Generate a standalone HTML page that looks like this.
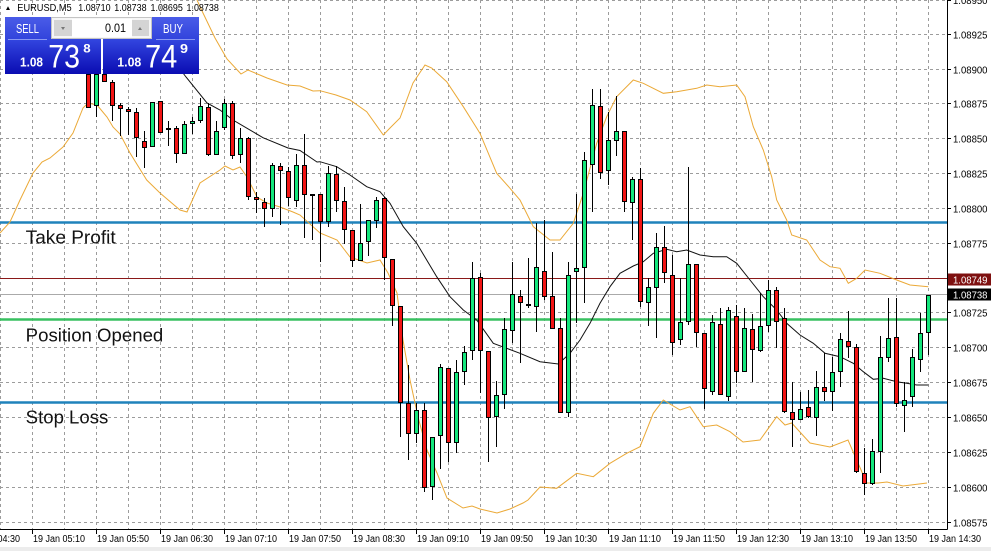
<!DOCTYPE html>
<html><head><meta charset="utf-8"><style>
html,body{margin:0;padding:0;background:#fff;width:991px;height:551px;overflow:hidden}
svg{display:block;font-family:"Liberation Sans",sans-serif}
</style></head><body>
<svg width="991" height="551" viewBox="0 0 991 551" xmlns="http://www.w3.org/2000/svg">
<defs>
<linearGradient id="pb" x1="0" y1="0" x2="0" y2="1"><stop offset="0" stop-color="#3346e0"/><stop offset="1" stop-color="#0a0cb2"/></linearGradient>
<linearGradient id="bt" x1="0" y1="0" x2="0" y2="1"><stop offset="0" stop-color="#4a5ce8"/><stop offset="1" stop-color="#3244dc"/></linearGradient>
</defs>
<rect width="991" height="551" fill="#fff"/>
<rect x="0" y="547" width="991" height="4" fill="#ececec"/>
<!-- grid -->
<g stroke="#9c9c9c" stroke-width="1" stroke-dasharray="3,3" fill="none">
<path d="M0.5 0V529M32.5 0V529M64.5 0V529M96.5 0V529M128.5 0V529M160.5 0V529M192.5 0V529M224.5 0V529M256.5 0V529M288.5 0V529M320.5 0V529M352.5 0V529M384.5 0V529M416.5 0V529M448.5 0V529M480.5 0V529M512.5 0V529M544.5 0V529M576.5 0V529M608.5 0V529M640.5 0V529M672.5 0V529M704.5 0V529M736.5 0V529M768.5 0V529M800.5 0V529M832.5 0V529M864.5 0V529M896.5 0V529M928.5 0V529"/>
<path d="M0 522.5H947M0 487.5H947M0 452.5H947M0 417.5H947M0 382.5H947M0 347.5H947M0 312.5H947M0 278.5H947M0 243.5H947M0 208.5H947M0 173.5H947M0 138.5H947M0 103.5H947M0 69.5H947M0 34.5H947M0 0.5H947"/>
</g>
<!-- horizontal level lines -->
<line x1="0" y1="278.5" x2="947" y2="278.5" stroke="#8a1818" stroke-width="1"/>
<line x1="0" y1="294.5" x2="947" y2="294.5" stroke="#aaaaaa" stroke-width="1"/>
<line x1="0" y1="222.5" x2="947" y2="222.5" stroke="#1f82bb" stroke-width="2.5"/>
<line x1="0" y1="319.5" x2="947" y2="319.5" stroke="#38c060" stroke-width="2.5"/>
<line x1="0" y1="402.5" x2="947" y2="402.5" stroke="#1f82bb" stroke-width="2.5"/>
<!-- bollinger -->
<g fill="none" stroke="#eba937" stroke-width="1">
<polyline points="197,0 203,13 215,38 227,59 241,74 248,70 267,78 287,85 300,86 313,91 320,90.7 336,95 350,100 366.7,111.7 383.3,135 390,128 400,118 413,83 425,65 431.7,68 446.7,81.7 463.3,106.7 480,133.3 496.7,173.3 510,188.3 520,200 533.3,226.7 550,240 560,240 573.3,223.3 583.3,193.3 596.7,143.3 606.7,116.7 616.7,96.7 633.3,80 643.3,83.3 663.3,93.3 676.7,91.7 696.7,88.3 706.7,85 720,86.7 736.7,85 745,96.7 753.3,126.7 763.3,150 771.7,176.7 776.7,200 786.7,220 791.7,235 806.7,240 820,260 830,266.7 840,268.3 848.3,283.3 856.7,278.3 865,270 880,273.3 896.7,280 910,285 928.3,286.7"/>
<polyline points="0,233 10,222 20,200 33,173 42,162 50,158 63,147 73,133 83,108 88,103 97,105 107,117 113,127 120,134 130,153 146.7,180 160,193 180,210 187,212 200,183 220,170 225,166 233,170 240,167 247,177 257,197 267,203 280,207 293,212 300,215 320,233 337,240 350,257 367,263 380,260 388,273 397,293 403,340 410,380 418,417 427,450 437,473 447,498 463,508 472,506 480,509 497,513 510,509 523,503 528,500 540,487 556.7,488.3 576.7,473.3 593.3,476.7 610,463.3 626.7,453.3 640,446.7 653.3,413.3 663.3,400 680,410 690,406.7 703.3,426.7 716.7,425 730,431.7 743,442 760,440 776.7,416.7 785,425 791.7,423 810,443 830,447 848,440 856.7,460 866.7,483 878,483 887,482 903,486 927,483"/>
</g>
<!-- MA -->
<polyline fill="none" stroke="#111" stroke-width="1" points="183,73 186,77 207,103 220,110 233,120 263,137.7 288,148 300,150.5 317,162 320,161.7 336.7,166.7 350,175 366.7,186.7 380,191.7 390,203.3 403.3,226.7 416.7,243.3 436.7,276.7 450,296.7 463.3,310 476.7,320 493.3,343.3 506.7,348.3 520,353.3 540,361.7 558.3,364 570,353.3 580,340 590,323.3 600,303.3 610,286.7 620,273.3 633.3,266 643.3,261.7 653.3,253.3 666.7,249.3 676.7,251.7 686.7,250 700,255 713.3,256.7 726.7,256.7 736.7,263.3 750,280 763.3,296.7 776.7,310 786.7,323.3 800,335 813.3,343.3 825,353.3 840,356.7 853.3,363.3 863.3,371.7 873.3,379.3 883.3,378.3 896.7,381.7 906.7,383.3 916.7,385 928.3,385"/>
<!-- wicks -->
<path stroke="#000" stroke-width="1" fill="none" d="M88.5 74V108M96.5 74V117M104.5 74V82M112.5 80V121M120.5 103V136M128.5 107V135M136.5 108V157M144.5 131V168M152.5 102V147M160.5 101V133M168.5 121V146M176.5 126V163M184.5 121V154M192.5 117V134M200.5 98V123M208.5 103V156M216.5 121V155M224.5 99V130M232.5 101V159M240.5 128V163M248.5 137V200M256.5 192V213M264.5 198V227M272.5 163V217M280.5 163V225M288.5 167V206M296.5 154V207M304.5 134V238M312.5 194V240M320.5 194V262M328.5 166V227M336.5 166V212M344.5 187V244M352.5 230V267M360.5 204V261M368.5 220V256M376.5 197V228M384.5 197V280M392.5 259V326M400.5 306V437M408.5 365V460M416.5 403V443M424.5 403V492M432.5 437V500M440.5 364V469M448.5 368V462M456.5 360V453M464.5 346V385M472.5 262V360M480.5 273V393M488.5 351V462M496.5 381V447M504.5 318V409M512.5 262V343M520.5 290V363M528.5 258V308M536.5 223V332M544.5 220V300M552.5 252V329M560.5 318V413M568.5 262V417M576.5 194V323M584.5 152V303M592.5 89V212M600.5 89V179M608.5 112V185M616.5 96V156M624.5 131V212M632.5 177V240M640.5 168V307M648.5 278V326M656.5 233V338M664.5 226V283M672.5 255V355M680.5 278V345M688.5 167V325M696.5 264V347M704.5 333V409M712.5 315V395M720.5 308V395M728.5 307V401M736.5 305V383M744.5 308V372M752.5 314V382M760.5 293V352M768.5 280V332M776.5 287V348M784.5 308V413M792.5 382V447M800.5 392V420M808.5 390V418M816.5 371V436M824.5 353V401M832.5 357V411M840.5 333V387M848.5 311V358M856.5 344V473M864.5 448V495M872.5 439V485M880.5 336V473M888.5 298V362M896.5 298V407M904.5 382V432M912.5 349V407M920.5 313V372M928.5 295V355"/>
<!-- bodies -->
<g stroke="#000" stroke-width="1">
<g fill="#f21414">
<rect x="86.5" y="74.5" width="4" height="33"/><rect x="102.5" y="74.5" width="4" height="7"/><rect x="110.5" y="82.5" width="4" height="23"/><rect x="118.5" y="105.5" width="4" height="3"/><rect x="126.5" y="109.5" width="4" height="2"/><rect x="134.5" y="112.5" width="4" height="25"/><rect x="142.5" y="141.5" width="4" height="6"/><rect x="158.5" y="101.5" width="4" height="31"/><rect x="174.5" y="128.5" width="4" height="25"/><rect x="206.5" y="107.5" width="4" height="47"/><rect x="230.5" y="103.5" width="4" height="52"/><rect x="246.5" y="138.5" width="4" height="58"/><rect x="254.5" y="197.5" width="4" height="2"/><rect x="262.5" y="202.5" width="4" height="6"/><rect x="278.5" y="166.5" width="4" height="4"/><rect x="286.5" y="171.5" width="4" height="26"/><rect x="302.5" y="165.5" width="4" height="29"/><rect x="310.5" y="194.5" width="4" height="1"/><rect x="318.5" y="194.5" width="4" height="27"/><rect x="334.5" y="174.5" width="4" height="26"/><rect x="342.5" y="201.5" width="4" height="28"/><rect x="350.5" y="230.5" width="4" height="30"/><rect x="382.5" y="198.5" width="4" height="59"/><rect x="390.5" y="259.5" width="4" height="46"/><rect x="398.5" y="306.5" width="4" height="96"/><rect x="406.5" y="403.5" width="4" height="30"/><rect x="422.5" y="410.5" width="4" height="77"/><rect x="446.5" y="368.5" width="4" height="74"/><rect x="478.5" y="277.5" width="4" height="73"/><rect x="486.5" y="351.5" width="4" height="66"/><rect x="518.5" y="296.5" width="4" height="6"/><rect x="542.5" y="271.5" width="4" height="25"/><rect x="550.5" y="296.5" width="4" height="32"/><rect x="558.5" y="328.5" width="4" height="84"/><rect x="598.5" y="106.5" width="4" height="66"/><rect x="622.5" y="131.5" width="4" height="70"/><rect x="638.5" y="179.5" width="4" height="122"/><rect x="662.5" y="247.5" width="4" height="25"/><rect x="670.5" y="275.5" width="4" height="67"/><rect x="694.5" y="264.5" width="4" height="68"/><rect x="702.5" y="333.5" width="4" height="55"/><rect x="718.5" y="324.5" width="4" height="70"/><rect x="734.5" y="316.5" width="4" height="55"/><rect x="750.5" y="329.5" width="4" height="20"/><rect x="774.5" y="290.5" width="4" height="31"/><rect x="782.5" y="318.5" width="4" height="93"/><rect x="790.5" y="412.5" width="4" height="7"/><rect x="806.5" y="407.5" width="4" height="9"/><rect x="822.5" y="387.5" width="4" height="4"/><rect x="846.5" y="341.5" width="4" height="5"/><rect x="854.5" y="347.5" width="4" height="124"/><rect x="862.5" y="473.5" width="4" height="10"/><rect x="894.5" y="337.5" width="4" height="66"/>
</g>
<g fill="#14e67c">
<rect x="94.5" y="74.5" width="4" height="31"/><rect x="150.5" y="102.5" width="4" height="44"/><rect x="166.5" y="128.5" width="4" height="1"/><rect x="182.5" y="124.5" width="4" height="29"/><rect x="190.5" y="121.5" width="4" height="2"/><rect x="198.5" y="106.5" width="4" height="14"/><rect x="214.5" y="131.5" width="4" height="23"/><rect x="222.5" y="103.5" width="4" height="24"/><rect x="238.5" y="138.5" width="4" height="16"/><rect x="270.5" y="165.5" width="4" height="43"/><rect x="294.5" y="165.5" width="4" height="35"/><rect x="326.5" y="173.5" width="4" height="48"/><rect x="358.5" y="243.5" width="4" height="17"/><rect x="366.5" y="220.5" width="4" height="21"/><rect x="374.5" y="200.5" width="4" height="20"/><rect x="414.5" y="410.5" width="4" height="23"/><rect x="430.5" y="437.5" width="4" height="49"/><rect x="438.5" y="367.5" width="4" height="68"/><rect x="454.5" y="372.5" width="4" height="70"/><rect x="462.5" y="352.5" width="4" height="19"/><rect x="470.5" y="278.5" width="4" height="72"/><rect x="494.5" y="395.5" width="4" height="21"/><rect x="502.5" y="329.5" width="4" height="65"/><rect x="510.5" y="294.5" width="4" height="36"/><rect x="526.5" y="304.5" width="4" height="1"/><rect x="534.5" y="267.5" width="4" height="39"/><rect x="566.5" y="275.5" width="4" height="137"/><rect x="574.5" y="268.5" width="4" height="3"/><rect x="582.5" y="160.5" width="4" height="107"/><rect x="590.5" y="105.5" width="4" height="59"/><rect x="606.5" y="140.5" width="4" height="30"/><rect x="614.5" y="131.5" width="4" height="9"/><rect x="630.5" y="179.5" width="4" height="23"/><rect x="646.5" y="287.5" width="4" height="15"/><rect x="654.5" y="247.5" width="4" height="40"/><rect x="678.5" y="322.5" width="4" height="17"/><rect x="686.5" y="264.5" width="4" height="57"/><rect x="710.5" y="322.5" width="4" height="69"/><rect x="726.5" y="310.5" width="4" height="86"/><rect x="742.5" y="328.5" width="4" height="43"/><rect x="758.5" y="326.5" width="4" height="24"/><rect x="766.5" y="290.5" width="4" height="35"/><rect x="798.5" y="409.5" width="4" height="10"/><rect x="814.5" y="387.5" width="4" height="30"/><rect x="830.5" y="372.5" width="4" height="19"/><rect x="838.5" y="339.5" width="4" height="32"/><rect x="870.5" y="451.5" width="4" height="32"/><rect x="878.5" y="357.5" width="4" height="94"/><rect x="886.5" y="338.5" width="4" height="19"/><rect x="902.5" y="400.5" width="4" height="5"/><rect x="910.5" y="357.5" width="4" height="39"/><rect x="918.5" y="333.5" width="4" height="26"/><rect x="926.5" y="295.5" width="4" height="37"/>
</g>
</g>
<!-- labels on chart -->
<g fill="#111" font-size="18.5">
<text x="25.7" y="243.3" textLength="90" lengthAdjust="spacingAndGlyphs">Take Profit</text>
<text x="25.7" y="341.7" textLength="137.6" lengthAdjust="spacingAndGlyphs">Position Opened</text>
<text x="25.7" y="423.3" textLength="82.6" lengthAdjust="spacingAndGlyphs">Stop Loss</text>
</g>
<!-- axes -->
<rect x="948" y="0" width="43" height="547" fill="#fff"/>
<rect x="0" y="530" width="948" height="17" fill="#fff"/>
<path stroke="#000" stroke-width="1" fill="none" d="M947.5 0V529.5M0 529.5H947.5"/>
<path stroke="#000" stroke-width="1" fill="none" d="M947 522.5H951M947 487.5H951M947 452.5H951M947 417.5H951M947 382.5H951M947 347.5H951M947 312.5H951M947 278.5H951M947 243.5H951M947 208.5H951M947 173.5H951M947 138.5H951M947 103.5H951M947 69.5H951M947 34.5H951M947 0.5H951"/>
<path stroke="#000" stroke-width="1" fill="none" d="M32.5 529V534M96.5 529V534M160.5 529V534M224.5 529V534M288.5 529V534M352.5 529V534M416.5 529V534M480.5 529V534M544.5 529V534M608.5 529V534M672.5 529V534M736.5 529V534M800.5 529V534M864.5 529V534M928.5 529V534"/>
<g fill="#000" font-size="10.5">
<text x="953" y="4" textLength="34.5" lengthAdjust="spacingAndGlyphs">1.08950</text>
<text x="953" y="38.5" textLength="34.5" lengthAdjust="spacingAndGlyphs">1.08925</text>
<text x="953" y="73.5" textLength="34.5" lengthAdjust="spacingAndGlyphs">1.08900</text>
<text x="953" y="107.5" textLength="34.5" lengthAdjust="spacingAndGlyphs">1.08875</text>
<text x="953" y="142.5" textLength="34.5" lengthAdjust="spacingAndGlyphs">1.08850</text>
<text x="953" y="177.5" textLength="34.5" lengthAdjust="spacingAndGlyphs">1.08825</text>
<text x="953" y="212.5" textLength="34.5" lengthAdjust="spacingAndGlyphs">1.08800</text>
<text x="953" y="247.5" textLength="34.5" lengthAdjust="spacingAndGlyphs">1.08775</text>
<text x="953" y="316.5" textLength="34.5" lengthAdjust="spacingAndGlyphs">1.08725</text>
<text x="953" y="351.5" textLength="34.5" lengthAdjust="spacingAndGlyphs">1.08700</text>
<text x="953" y="386.5" textLength="34.5" lengthAdjust="spacingAndGlyphs">1.08675</text>
<text x="953" y="421.5" textLength="34.5" lengthAdjust="spacingAndGlyphs">1.08650</text>
<text x="953" y="456.5" textLength="34.5" lengthAdjust="spacingAndGlyphs">1.08625</text>
<text x="953" y="491.5" textLength="34.5" lengthAdjust="spacingAndGlyphs">1.08600</text>
<text x="953" y="526.5" textLength="34.5" lengthAdjust="spacingAndGlyphs">1.08575</text>
</g>
<rect x="948" y="273.5" width="43" height="12" fill="#7e1010"/>
<text x="953" y="283.5" font-size="10.5" fill="#fff" textLength="34.5" lengthAdjust="spacingAndGlyphs">1.08749</text>
<rect x="948" y="288.5" width="43" height="12" fill="#000"/>
<text x="953" y="298.5" font-size="10.5" fill="#fff" textLength="34.5" lengthAdjust="spacingAndGlyphs">1.08738</text>
<g fill="#000" font-size="10">
<text x="-32" y="542" textLength="52" lengthAdjust="spacingAndGlyphs">19 Jan 04:30</text>
<text x="33" y="542" textLength="52" lengthAdjust="spacingAndGlyphs">19 Jan 05:10</text>
<text x="97" y="542" textLength="52" lengthAdjust="spacingAndGlyphs">19 Jan 05:50</text>
<text x="161" y="542" textLength="52" lengthAdjust="spacingAndGlyphs">19 Jan 06:30</text>
<text x="225" y="542" textLength="52" lengthAdjust="spacingAndGlyphs">19 Jan 07:10</text>
<text x="289" y="542" textLength="52" lengthAdjust="spacingAndGlyphs">19 Jan 07:50</text>
<text x="353" y="542" textLength="52" lengthAdjust="spacingAndGlyphs">19 Jan 08:30</text>
<text x="417" y="542" textLength="52" lengthAdjust="spacingAndGlyphs">19 Jan 09:10</text>
<text x="481" y="542" textLength="52" lengthAdjust="spacingAndGlyphs">19 Jan 09:50</text>
<text x="545" y="542" textLength="52" lengthAdjust="spacingAndGlyphs">19 Jan 10:30</text>
<text x="609" y="542" textLength="52" lengthAdjust="spacingAndGlyphs">19 Jan 11:10</text>
<text x="673" y="542" textLength="52" lengthAdjust="spacingAndGlyphs">19 Jan 11:50</text>
<text x="737" y="542" textLength="52" lengthAdjust="spacingAndGlyphs">19 Jan 12:30</text>
<text x="801" y="542" textLength="52" lengthAdjust="spacingAndGlyphs">19 Jan 13:10</text>
<text x="865" y="542" textLength="52" lengthAdjust="spacingAndGlyphs">19 Jan 13:50</text>
<text x="929" y="542" textLength="52" lengthAdjust="spacingAndGlyphs">19 Jan 14:30</text>
</g>
<!-- header -->
<polygon points="6,10 8,6.3 10,10" fill="#000"/>
<g fill="#000" font-size="10">
<text x="17.3" y="11" textLength="54.4" lengthAdjust="spacingAndGlyphs">EURUSD,M5</text>
<text x="78.3" y="11" textLength="32.3" lengthAdjust="spacingAndGlyphs">1.08710</text>
<text x="114.3" y="11" textLength="32.3" lengthAdjust="spacingAndGlyphs">1.08738</text>
<text x="150.5" y="11" textLength="32.3" lengthAdjust="spacingAndGlyphs">1.08695</text>
<text x="186.5" y="11" textLength="32.3" lengthAdjust="spacingAndGlyphs">1.08738</text>
</g>
<!-- trade panel -->
<rect x="5" y="17" width="46" height="22" fill="url(#bt)"/>
<rect x="152" y="17" width="47" height="22" fill="url(#bt)"/>
<rect x="51.5" y="17.5" width="100" height="21" fill="#f6f6f6" stroke="#c4c4c4"/>
<rect x="72" y="19" width="60" height="18" fill="#fff"/>
<rect x="54" y="20" width="18" height="16" fill="#d4d4d4"/>
<rect x="132" y="20" width="17" height="16" fill="#d4d4d4"/>
<polygon points="61,27 65,27 63,30" fill="#777"/>
<polygon points="138,30 142,30 140,27" fill="#777"/>
<text x="105" y="32" font-size="12" fill="#000" textLength="21" lengthAdjust="spacingAndGlyphs">0.01</text>
<rect x="5" y="39" width="96" height="35" fill="url(#pb)"/>
<rect x="103" y="39" width="96" height="35" fill="url(#pb)"/>
<line x1="8" y1="39.5" x2="47" y2="39.5" stroke="#8a98f2" stroke-width="1"/>
<line x1="156" y1="39.5" x2="195" y2="39.5" stroke="#8a98f2" stroke-width="1"/>
<g fill="#fff">
<text x="16" y="33" font-size="12.5" textLength="23" lengthAdjust="spacingAndGlyphs">SELL</text>
<text x="163" y="33" font-size="12.5" textLength="20" lengthAdjust="spacingAndGlyphs">BUY</text>
<text x="20" y="66.7" font-size="13" font-weight="bold" textLength="23" lengthAdjust="spacingAndGlyphs">1.08</text>
<text x="48.3" y="67.3" font-size="32" textLength="31.7" lengthAdjust="spacingAndGlyphs">73</text>
<text x="83.3" y="52.5" font-size="12" font-weight="bold" textLength="7.4" lengthAdjust="spacingAndGlyphs">8</text>
<text x="117.3" y="66.7" font-size="13" font-weight="bold" textLength="24" lengthAdjust="spacingAndGlyphs">1.08</text>
<text x="145" y="67.3" font-size="32" textLength="32.3" lengthAdjust="spacingAndGlyphs">74</text>
<text x="180" y="53" font-size="12.5" font-weight="bold" textLength="8" lengthAdjust="spacingAndGlyphs">9</text>
</g>
</svg>
</body></html>
